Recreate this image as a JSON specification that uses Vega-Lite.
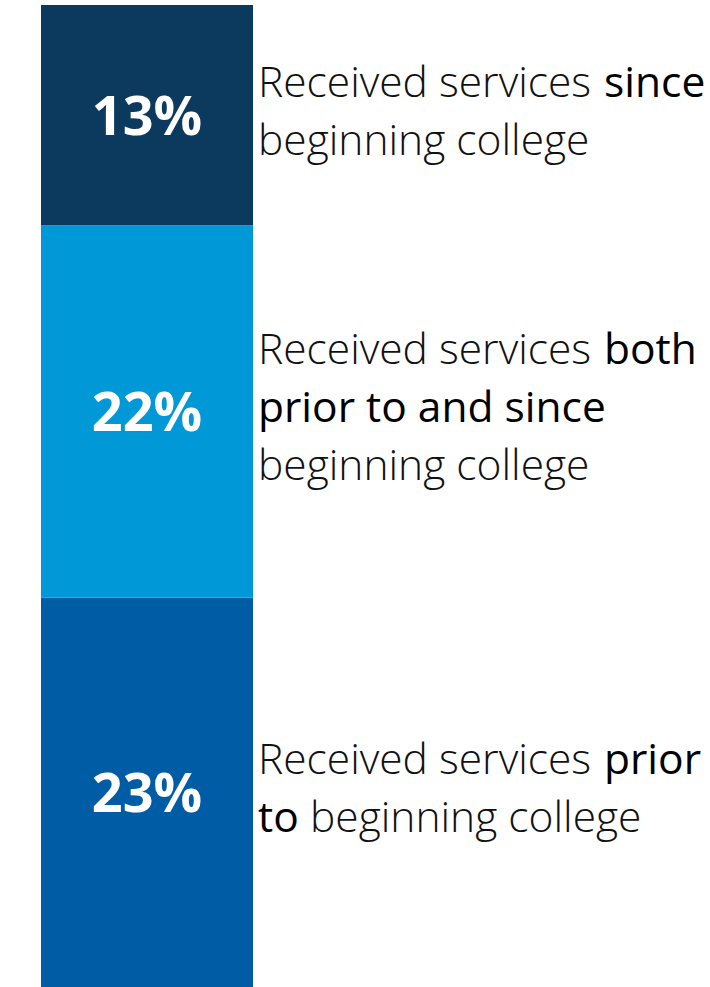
{
  "$schema": "https://vega.github.io/schema/vega-lite/v6.json",
  "width": 710,
  "height": 987,
  "autosize": {"type": "fit", "contains": "padding"},
  "padding": 0,
  "background": "#ffffff",
  "config": {"view": {"stroke": null}},
  "data": {
    "values": [
      {"group": "prior", "value": 23, "label": "23%", "light": "\u2800|Received services", "regular": "\u2800|\u2800|\u2800|to", "emph": "\u2800|prior", "tail": "\u2800|\u2800|\u2800|beginning college"},
      {"group": "both", "value": 22, "label": "22%", "light": "Received services|\u2800|\u2800|\u2800|beginning college", "regular": "\u2800|\u2800|prior to and since", "emph": "both", "tail": "\u2800"},
      {"group": "since", "value": 13, "label": "13%", "light": "\u2800|Received services|\u2800|beginning college", "regular": "\u2800", "emph": "\u2800|since", "tail": "\u2800"}
    ]
  },
  "transform": [
    {"stack": "value", "groupby": [], "as": ["y0", "y1"]},
    {"calculate": "(datum.y0 + datum.y1) / 2", "as": "ymid"}
  ],
  "layer": [
    {
      "mark": {"type": "bar", "stroke": null},
      "encoding": {
        "y": {"field": "y0", "type": "quantitative", "scale": {"domain": [0, 58.3], "nice": false, "zero": false}, "axis": null},
        "y2": {"field": "y1"},
        "x": {"datum": 41, "type": "quantitative", "scale": {"domain": [0, 710], "nice": false}, "axis": null},
        "x2": {"datum": 253},
        "color": {"field": "group", "type": "nominal", "scale": {"domain": ["since", "both", "prior"], "range": ["#0c395e", "#0098d6", "#005ca5"]}, "legend": null}
      }
    },
    {
      "mark": {"type": "text", "font": "Open Sans", "fontWeight": "bold", "fontSize": 54, "color": "#ffffff", "align": "center", "baseline": "middle", "dy": 4},
      "encoding": {
        "y": {"field": "ymid", "type": "quantitative"},
        "x": {"datum": 147, "type": "quantitative"},
        "text": {"field": "label"}
      }
    },
    {
      "mark": {"type": "text", "font": "Open Sans", "fontWeight": 300, "fontSize": 42.5, "lineHeight": 29, "lineBreak": "|", "color": "#111111", "align": "left", "baseline": "middle", "dy": -60},
      "encoding": {
        "y": {"field": "ymid", "type": "quantitative"},
        "x": {"datum": 258, "type": "quantitative"},
        "text": {"field": "light"}
      }
    },
    {
      "mark": {"type": "text", "font": "Open Sans", "fontWeight": 400, "fontSize": 42.5, "lineHeight": 29, "lineBreak": "|", "color": "#000000", "align": "left", "baseline": "middle", "dy": -60},
      "encoding": {
        "y": {"field": "ymid", "type": "quantitative"},
        "x": {"datum": 258, "type": "quantitative"},
        "text": {"field": "regular"}
      }
    },
    {
      "mark": {"type": "text", "font": "Open Sans", "fontWeight": 400, "fontSize": 42.5, "lineHeight": 29, "lineBreak": "|", "color": "#000000", "align": "left", "baseline": "middle", "dx": 346, "dy": -60},
      "encoding": {
        "y": {"field": "ymid", "type": "quantitative"},
        "x": {"datum": 258, "type": "quantitative"},
        "text": {"field": "emph"}
      }
    },
    {
      "mark": {"type": "text", "font": "Open Sans", "fontWeight": 300, "fontSize": 42.5, "lineHeight": 29, "lineBreak": "|", "color": "#111111", "align": "left", "baseline": "middle", "dx": 52, "dy": -60},
      "encoding": {
        "y": {"field": "ymid", "type": "quantitative"},
        "x": {"datum": 258, "type": "quantitative"},
        "text": {"field": "tail"}
      }
    }
  ]
}
